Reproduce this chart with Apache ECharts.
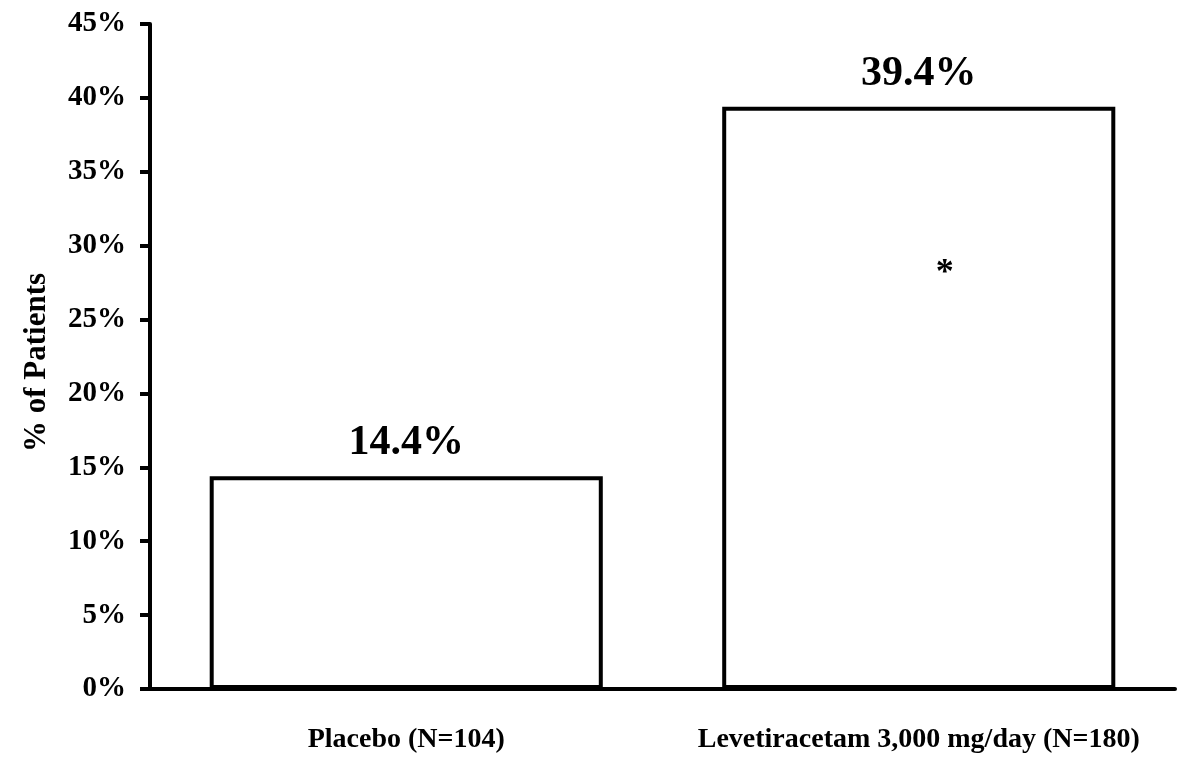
<!DOCTYPE html>
<html>
<head>
<meta charset="utf-8">
<script src="https://cdn.jsdelivr.net/npm/echarts@6/dist/echarts.min.js"></script>
<style>html,body{margin:0;padding:0;background:#fff}#c{width:1188px;height:765px}</style>
</head>
<body>
<div id="c"></div>
<script>
var categories = ['Placebo (N=104)', 'Levetiracetam 3,000 mg/day (N=180)'];
var values = [14.4, 39.4];
var yTicks = [0, 5, 10, 15, 20, 25, 30, 35, 40, 45];
var asteriskPoint = [1, 28.5];
var asteriskText = '*';
var yAxisTitle = '% of Patients';

var font = '"Liberation Serif", "Times New Roman", serif';
var chart = echarts.init(document.getElementById('c'), null, {renderer: 'canvas'});
chart.setOption({
  animation: false,
  backgroundColor: '#fff',
  grid: {left: 150, right: 13, top: 24, bottom: 76, containLabel: false},
  xAxis: {
    type: 'category',
    data: categories,
    axisLine: {lineStyle: {color: '#000', width: 4}},
    axisTick: {show: false},
    axisLabel: {interval: 0, color: '#000', fontFamily: font, fontWeight: 'bold', fontSize: 28, margin: 37}
  },
  yAxis: {
    type: 'value',
    min: yTicks[0], max: yTicks[yTicks.length - 1], interval: 5,
    name: yAxisTitle,
    nameLocation: 'middle',
    nameGap: 98,
    nameRotate: 90,
    nameTextStyle: {color: '#000', fontFamily: font, fontWeight: 'bold', fontSize: 31, padding: [0, 12, 0, 0]},
    axisLine: {show: true, lineStyle: {color: '#000', width: 4}},
    axisTick: {show: true, length: 10, lineStyle: {color: '#000', width: 4}},
    splitLine: {show: false},
    axisLabel: {color: '#000', fontFamily: font, fontWeight: 'bold', fontSize: 29, margin: 24,
      formatter: function (v) { return v + '%'; }}
  },
  series: [{
    type: 'bar',
    data: values,
    barWidth: '76.7%',
    itemStyle: {color: '#fff', borderColor: '#000', borderWidth: 4},
    label: {show: true, position: 'top', distance: 12, color: '#000', fontFamily: font,
      fontWeight: 'bold', fontSize: 42, formatter: function (p) { return p.value.toFixed(1) + '%'; }},
    markPoint: {
      symbol: 'circle', symbolSize: 0,
      data: [{coord: asteriskPoint, value: asteriskText}],
      label: {show: true, position: 'inside', offset: [26, 6], color: '#000', fontFamily: font,
        fontWeight: 'bold', fontSize: 36, formatter: asteriskText}
    }
  }]
});
</script>
</body>
</html>
